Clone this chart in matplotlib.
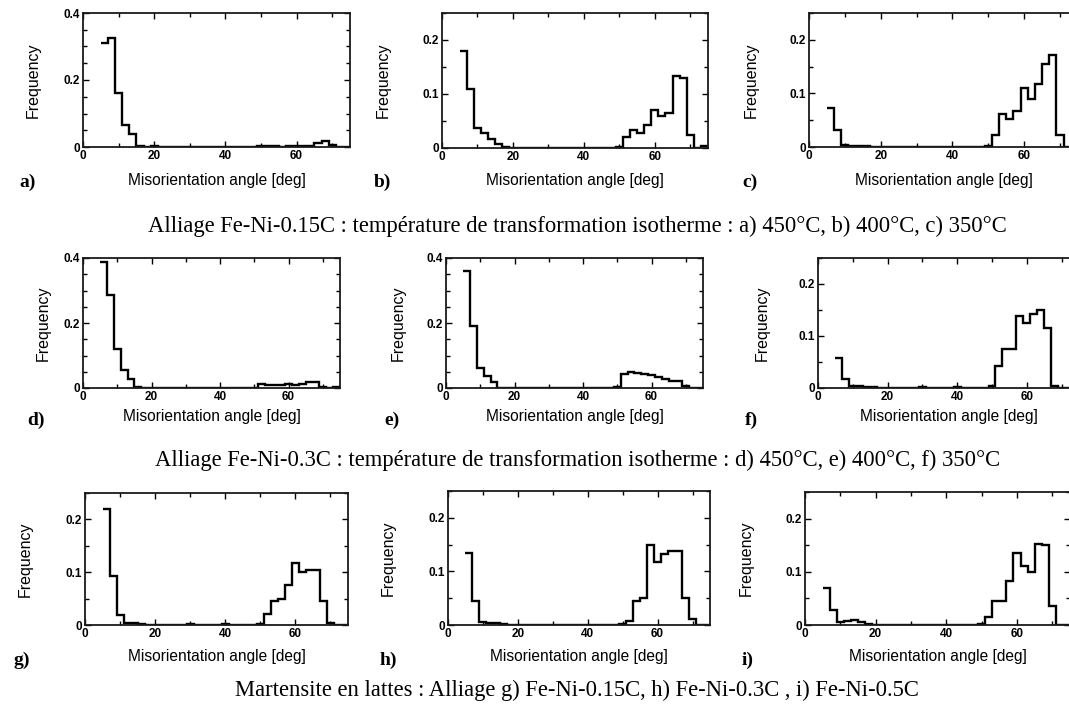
"""
Distributions des angles de désorientation (9 panneaux a-i),
tracées en histogrammes en escalier, avec légendes sous chaque rangée.
"""

import matplotlib
matplotlib.use("Agg")
import matplotlib.pyplot as plt
from matplotlib.ticker import MultipleLocator

W, H = 1069, 704

# bornes des classes (deg)
bin_edges = [5, 7, 9, 11, 13, 15, 17, 19, 21, 23, 25, 27, 29, 31, 33, 35, 37, 39,
             41, 43, 45, 47, 49, 51, 53, 55, 57, 59, 61, 63, 65, 67, 69, 71, 73, 75]

# fréquences (une valeur par classe)
freq_a = [0.31, 0.325, 0.16, 0.065, 0.038, 0.003, 0.001, 0.002, 0.001, 0.0, 0.0, 0.0,
          0.001, 0.0, 0.0, 0.0, 0.0, 0.001, 0.0, 0.0, 0.0, 0.0, 0.002, 0.002, 0.002,
          0.001, 0.002, 0.002, 0.003, 0.004, 0.012, 0.018, 0.005, 0.001, 0.0]
freq_b = [0.18, 0.11, 0.037, 0.027, 0.017, 0.008, 0.002, 0.0, 0.0, 0.0, 0.0, 0.0,
          0.0, 0.0, 0.0, 0.0, 0.0, 0.0, 0.0, 0.0, 0.0, 0.0, 0.001, 0.02, 0.033,
          0.028, 0.042, 0.07, 0.06, 0.065, 0.133, 0.13, 0.025, 0.0, 0.004]
freq_c = [0.073, 0.032, 0.003, 0.002, 0.001, 0.001, 0.0, 0.0, 0.0, 0.0, 0.0, 0.0,
          0.0, 0.0, 0.0, 0.0, 0.0, 0.0, 0.0, 0.0, 0.0, 0.0, 0.001, 0.022, 0.062,
          0.052, 0.068, 0.11, 0.09, 0.117, 0.155, 0.172, 0.022, 0.0, 0.0]
freq_d = [0.388, 0.286, 0.12, 0.056, 0.029, 0.002, 0.001, 0.0, 0.0, 0.0, 0.0, 0.0,
          0.001, 0.0, 0.0, 0.0, 0.0, 0.001, 0.0, 0.0, 0.0, 0.0, 0.001, 0.012, 0.008,
          0.008, 0.01, 0.012, 0.01, 0.012, 0.018, 0.018, 0.003, 0.001, 0.002]
freq_e = [0.359, 0.191, 0.062, 0.037, 0.02, 0.001, 0.0, 0.0, 0.0, 0.0, 0.0, 0.0,
          0.001, 0.0, 0.0, 0.0, 0.0, 0.001, 0.0, 0.0, 0.0, 0.001, 0.002, 0.042, 0.05,
          0.045, 0.042, 0.04, 0.035, 0.028, 0.022, 0.022, 0.006, 0.0, 0.001]
freq_f = [0.058, 0.018, 0.003, 0.003, 0.001, 0.001, 0.0, 0.0, 0.0, 0.0, 0.0, 0.0,
          0.001, 0.0, 0.0, 0.0, 0.0, 0.001, 0.0, 0.0, 0.0, 0.0, 0.003, 0.043, 0.075,
          0.075, 0.138, 0.125, 0.143, 0.15, 0.115, 0.003, 0.0, 0.0, 0.0]
freq_g = [0.22, 0.093, 0.018, 0.003, 0.003, 0.001, 0.0, 0.0, 0.0, 0.0, 0.0, 0.0,
          0.001, 0.0, 0.0, 0.0, 0.0, 0.001, 0.0, 0.0, 0.0, 0.0, 0.002, 0.02, 0.045,
          0.05, 0.075, 0.118, 0.1, 0.105, 0.105, 0.045, 0.003, 0.0, 0.0]
freq_h = [0.135, 0.045, 0.005, 0.003, 0.003, 0.001, 0.0, 0.0, 0.0, 0.0, 0.0, 0.0,
          0.0, 0.0, 0.0, 0.0, 0.0, 0.0, 0.0, 0.0, 0.0, 0.0, 0.002, 0.008, 0.045,
          0.05, 0.15, 0.118, 0.133, 0.138, 0.138, 0.05, 0.012, 0.0, 0.0]
freq_i = [0.07, 0.028, 0.005, 0.008, 0.01, 0.005, 0.001, 0.0, 0.0, 0.0, 0.0, 0.0,
          0.0, 0.0, 0.0, 0.0, 0.0, 0.0, 0.0, 0.0, 0.0, 0.0, 0.002, 0.015, 0.045,
          0.045, 0.083, 0.135, 0.11, 0.1, 0.153, 0.15, 0.035, 0.0, 0.0]

panel_freqs = [freq_a, freq_b, freq_c, freq_d, freq_e, freq_f, freq_g, freq_h, freq_i]
panel_letters = ["a)", "b)", "c)", "d)", "e)", "f)", "g)", "h)", "i)"]
panel_ymax = [0.4, 0.25, 0.25, 0.4, 0.4, 0.25, 0.25, 0.25, 0.25]
panel_ystep = [0.2, 0.1, 0.1, 0.2, 0.2, 0.1, 0.1, 0.1, 0.1]
x_ticks = [0, 20, 40, 60]

captions = [
    "Alliage Fe-Ni-0.15C : température de transformation isotherme : a) 450°C, b) 400°C, c) 350°C",
    "Alliage Fe-Ni-0.3C : température de transformation isotherme : d) 450°C, e) 400°C, f) 350°C",
    "Martensite en lattes : Alliage g) Fe-Ni-0.15C, h) Fe-Ni-0.3C , i) Fe-Ni-0.5C",
]

# mise en page en pixels : (gauche, droite, haut, bas)
boxes = [(83, 350, 13, 147), (442, 708, 13, 148), (809, 1078, 13, 147),
         (83, 340, 258, 388), (446, 703, 258, 388), (818, 1079, 258, 388),
         (85, 348, 493, 625), (448, 710, 491, 625), (805, 1070, 492, 625)]
ylabel_off = [50, 59, 58, 40, 48, 56, 60, 60, 59]
xlabel_off = [34, 33, 33, 29, 29, 29, 32, 32, 32]
letter_pos = [(28, 182), (382, 182), (750, 182),
              (36, 420), (392, 420), (751, 420),
              (22, 660), (388, 660), (748, 660)]
caption_y = [226, 460, 690]

sans = "Liberation Sans"
serif = "Liberation Serif"

fig = plt.figure(figsize=(W / 100, H / 100), dpi=100)
fig.patch.set_facecolor("white")

for k, (l, r, t, b) in enumerate(boxes):
    ax = fig.add_axes([l / W, 1 - b / H, (r - l) / W, (b - t) / H])
    ax.stairs(panel_freqs[k], bin_edges, baseline=None, color="black", lw=1.7)

    ax.set_xlim(0, 75)
    ax.set_ylim(0, panel_ymax[k])

    ax.set_xticks(x_ticks)
    ax.set_xticklabels([str(v) for v in x_ticks])
    ax.xaxis.set_minor_locator(MultipleLocator(10))
    step = panel_ystep[k]
    yt = [0, step, 2 * step]
    ax.set_yticks(yt)
    ax.set_yticklabels(["0"] + [f"{v:.1f}" for v in yt[1:]])
    ax.yaxis.set_minor_locator(MultipleLocator(0.05))

    ax.tick_params(which="both", direction="in", top=True, right=True,
                   width=1.0, colors="black", labelsize=8.5, pad=2)
    ax.tick_params(which="major", length=4)
    ax.tick_params(which="minor", length=3)
    for lab in ax.get_xticklabels() + ax.get_yticklabels():
        lab.set_fontfamily(sans)
        lab.set_fontweight("bold")

    for sp in ax.spines.values():
        sp.set_linewidth(1.3)
        sp.set_color("#1a1a1a")

    ax.set_xlabel("Misorientation angle [deg]", fontsize=11.2, family=sans)
    ax.set_ylabel("Frequency", fontsize=11.5, family=sans)
    ax.xaxis.set_label_coords(0.5, -xlabel_off[k] / (b - t))
    ax.yaxis.set_label_coords(-ylabel_off[k] / (r - l), 0.5)
    ax.xaxis.label.set_va("center")
    ax.yaxis.label.set_va("center")

    lx, ly = letter_pos[k]
    fig.text(lx / W, 1 - ly / H, panel_letters[k], ha="center", va="center",
             fontsize=14, fontweight="bold", family=serif)

for cap, cy in zip(captions, caption_y):
    fig.text(0.54, 1 - cy / H, cap, ha="center", va="center",
             fontsize=16.3, family=serif)

fig.savefig("out.png", dpi=100, facecolor="white")
